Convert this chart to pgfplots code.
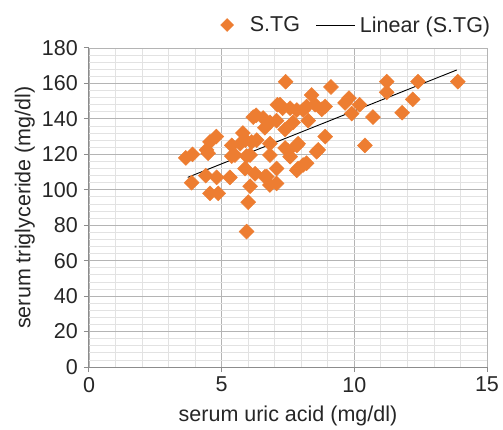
\documentclass[border=0pt]{standalone}
\usepackage{pgfplots}
\pgfplotsset{compat=1.18}
\usepackage{fontspec}
\setmainfont{Liberation Sans}
\definecolor{stgorange}{HTML}{ED7D31}
\definecolor{axgray}{HTML}{8C8C8C}
\definecolor{majgrid}{HTML}{B4B4B4}
\definecolor{mingrid}{HTML}{E2E2E2}
\definecolor{txt}{HTML}{262626}

\begin{document}
\begin{tikzpicture}
\begin{axis}[
    scale only axis,
    width=398bp, height=319bp,
    xmin=0, xmax=15, ymin=0, ymax=180,
    xtick={0,5,10,15}, ytick={0,20,...,180},
    minor x tick num=4, minor y tick num=4,
    grid=both,
    major grid style={draw=majgrid, line width=0.8bp},
    minor grid style={draw=mingrid, line width=0.8bp},
    axis x line*=bottom, axis y line*=left,
    axis line style={draw=axgray, line width=1bp, -},
    tick align=outside, major tick length=5bp, minor tick length=0bp,
    tick style={draw=axgray, line width=1bp},
    every tick label/.append style={font=\fontsize{21.5bp}{24bp}\selectfont, text=txt},
    xticklabel style={inner sep=0pt, yshift=-5bp},
    yticklabel style={inner sep=0pt, xshift=-6bp},
    /pgf/number format/assume math mode=true,
    xlabel={serum uric acid (mg/dl)},
    ylabel={serum triglyceride (mg/dl)},
    label style={font=\fontsize{21.5bp}{24bp}\selectfont, text=txt},
    xlabel style={at={(axis description cs:0.5,-0.152)}, anchor=center},
    ylabel style={at={(axis description cs:-0.161,0.5)}, anchor=center},
    legend style={at={(1.013,1.072)}, anchor=east, draw=none, fill=none,
        inner sep=0pt, outer sep=0pt,
        legend columns=2, font=\fontsize{21.5bp}{24bp}\selectfont, text=txt,
        nodes={inner sep=2bp},
        /tikz/every even column/.append style={column sep=14bp}},
]
\addplot[only marks, mark=square*, mark size=5.3bp,
    mark options={rotate=45, fill=stgorange, draw=stgorange},
    legend image code/.code={\fill[stgorange] (0bp,6.5bp)--(6.5bp,0bp)--(0bp,-6.5bp)--(-6.5bp,0bp)--cycle;
        \path (20.5bp,0bp);}]
coordinates {
(3.65,118) (3.9,120) (3.87,104) (4.4,108) (4.56,98) (4.87,98)
(4.43,122.5) (4.56,127) (4.8,130) (4.49,120.6) (4.81,107)
(5.38,125) (5.38,119) (5.31,107) (5.5,119.6) (5.8,132) (5.9,128)
(5.7,126) (6.13,127) (6.19,141) (6.3,142) (6.07,119.6) (5.94,119)
(5.88,112) (6.26,109) (6.07,102) (6.0,93) (5.94,76.4) (6.32,128)
(6.63,135) (6.56,140.5) (6.82,138) (6.82,126) (6.82,119.6) (6.7,107.4)
(6.63,107.4) (6.82,102.7) (7.07,139) (7.07,112) (7.07,103.6) (7.2,148)
(7.1,148) (7.3,146) (7.39,134) (7.39,123.6) (7.41,161) (7.5,122)
(7.58,118.7) (7.58,146) (7.83,145) (7.69,138) (7.83,125)
(7.88,126) (7.83,111) (7.88,112) (8.07,145) (8.2,147) (8.26,139)
(8.39,153.5) (8.52,148) (8.58,121.5) (8.64,122.5) (8.77,145.4)
(8.9,147) (8.9,130) (8.07,114) (8.2,115) (9.12,158) (9.65,149)
(9.8,151.7) (9.9,143) (10.2,148) (10.4,125) (10.7,141) (11.22,161)
(11.22,155) (11.8,143.5) (12.2,151) (12.4,161) (13.9,161)
};
\addlegendentry{S.TG}
\addplot[black, line width=0.9bp, no marks,
    legend image code/.code={\draw[black, line width=0.9bp] (0bp,0bp) -- (39bp,0bp);
        \path (41bp,0bp);}]
coordinates {(3.72,107) (13.86,167.6)};
\addlegendentry{Linear (S.TG)}
\end{axis}
\path ([shift={(-89bp,-63bp)}]current axis.south west) rectangle ([shift={(414bp,367bp)}]current axis.south west);
\end{tikzpicture}
\end{document}
